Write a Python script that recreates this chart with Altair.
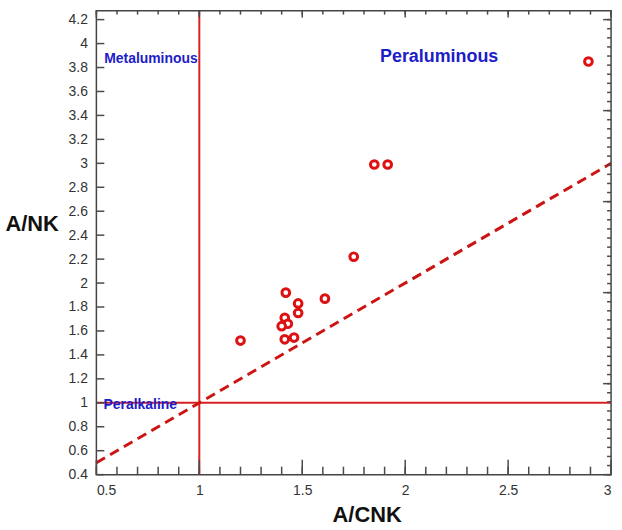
import altair as alt
import pandas as pd

# ---- data ----
acnk = [1.20, 1.42, 1.61, 1.48, 1.48, 1.415, 1.43, 1.40, 1.415, 1.46, 1.75, 1.85, 1.915, 2.89]
ank = [1.52, 1.92, 1.87, 1.83, 1.75, 1.71, 1.66, 1.64, 1.53, 1.545, 2.22, 2.99, 2.99, 3.85]

dash_x = [0.5, 3.0]          # A/NK = A/CNK boundary
dash_y = [0.5, 3.0]
vline_x = [1.0, 1.0]         # A/CNK = 1
vline_y = [0.4, 4.275]
hline_x = [0.5, 3.0]         # A/NK = 1
hline_y = [1.0, 1.0]

labels = ["Peraluminous", "Metaluminous", "Peralkaline"]
label_x = [2.165, 0.538, 0.535]
label_y = [3.89, 3.868, 0.979]

x_major = [0.5, 1, 1.5, 2, 2.5, 3]
x_minor = [round(0.5 + 0.1 * i, 1) for i in range(26)]
y_ticks = [round(0.4 + 0.2 * i, 1) for i in range(20)]
y_right_minor = [round(0.4 + 0.076 * i, 3) for i in range(51)]
y_right_major = [round(0.4 + 0.76 * i, 2) for i in range(6)]

X_LO, X_HI = 0.5, 3.0
Y_LO, Y_HI = 0.4, 4.275

# ---- tables ----
pts = pd.DataFrame({"x": acnk, "y": ank})
dash = pd.DataFrame({"x": dash_x, "y": dash_y})
vline = pd.DataFrame({"x": vline_x, "y": vline_y})
hline = pd.DataFrame({"x": hline_x, "y": hline_y})
lab = pd.DataFrame({"t": labels, "x": label_x, "y": label_y})
frame = pd.DataFrame({"x": [X_LO], "x2": [X_HI], "y": [Y_LO], "y2": [Y_HI]})

FONT = "Liberation Sans"
XS = alt.Scale(domain=[X_LO, X_HI], nice=False, zero=False)
YS = alt.Scale(domain=[Y_LO, Y_HI], nice=False, zero=False)
TICK = "#4a4a4a"
BLUE = "#1c1cc8"

x_main = alt.Axis(orient="bottom", values=x_major, format="~g", ticks=False,
                  domain=False, grid=False, labelPadding=9, labelFontSize=14,
                  labelColor="#333333", labelFont=FONT, title="A/CNK",
                  titleFont=FONT, titleFontSize=22, titleFontWeight="bold",
                  titleColor="#111111", titleX=272, titleY=40,
                  titleAlign="center", titleBaseline="middle")
y_main = alt.Axis(orient="left", values=y_ticks, format="~g", ticks=False,
                  domain=False, grid=False, labelPadding=9, labelFontSize=14,
                  labelColor="#333333", labelFont=FONT, title="A/NK",
                  titleFont=FONT, titleFontSize=22, titleFontWeight="bold",
                  titleColor="#111111", titleAngle=0, titleX=-92, titleY=214,
                  titleAlign="left", titleBaseline="middle")


def x_ticks(values, at, length, inward):
    """Vertical tick marks along the bottom/top frame edge, pointing inward."""
    df = pd.DataFrame({"v": values})
    return alt.Chart(df).mark_tick(
        orient="vertical", color=TICK, thickness=1.5, size=length, opacity=1
    ).encode(
        x=alt.X("v:Q", scale=XS, axis=None),
        y=alt.YDatum(at, type="quantitative", scale=YS, axis=None),
        yOffset=alt.value(inward * length / 2),
    )


def y_ticks_mark(values, at, length, inward):
    """Horizontal tick marks along the left/right frame edge, pointing inward."""
    df = pd.DataFrame({"v": values})
    return alt.Chart(df).mark_tick(
        orient="horizontal", color=TICK, thickness=1.5, size=length, opacity=1
    ).encode(
        y=alt.Y("v:Q", scale=YS, axis=None),
        x=alt.XDatum(at, type="quantitative", scale=XS, axis=None),
        xOffset=alt.value(inward * length / 2),
    )


box = alt.Chart(frame).mark_rect(
    fill=None, fillOpacity=0, stroke="#444444", strokeWidth=1.5
).encode(x=alt.X("x:Q", scale=XS, axis=None), x2="x2:Q",
         y=alt.Y("y:Q", scale=YS, axis=None), y2="y2:Q")

points = alt.Chart(pts).mark_point(
    shape="circle", filled=False, fill="#ffffff", fillOpacity=1,
    stroke="#dd1111", strokeWidth=3, size=60, opacity=1
).encode(x=alt.X("x:Q", scale=XS, axis=x_main),
         y=alt.Y("y:Q", scale=YS, axis=y_main))

dashed = alt.Chart(dash).mark_line(
    color="#cc1414", strokeWidth=3, strokeDash=[10, 6]
).encode(x=alt.X("x:Q", scale=XS, axis=None),
         y=alt.Y("y:Q", scale=YS, axis=None))

vrule = alt.Chart(vline).mark_line(color="#d82020", strokeWidth=2).encode(
    x=alt.X("x:Q", scale=XS, axis=None),
    y=alt.Y("y:Q", scale=YS, axis=None))

hrule = alt.Chart(hline).mark_line(color="#d82020", strokeWidth=2).encode(
    x=alt.X("x:Q", scale=XS, axis=None),
    y=alt.Y("y:Q", scale=YS, axis=None))

big = alt.Chart(lab[lab.t == "Peraluminous"]).mark_text(
    align="center", baseline="middle", font=FONT, fontWeight="bold",
    fontSize=18, color=BLUE
).encode(x=alt.X("x:Q", scale=XS, axis=None),
         y=alt.Y("y:Q", scale=YS, axis=None), text="t:N")

small = alt.Chart(lab[lab.t != "Peraluminous"]).mark_text(
    align="left", baseline="middle", font=FONT, fontWeight="bold",
    fontSize=14, color=BLUE
).encode(x=alt.X("x:Q", scale=XS, axis=None),
         y=alt.Y("y:Q", scale=YS, axis=None), text="t:N")

ticks = [
    x_ticks(x_minor, Y_LO, 8, -1),
    x_ticks(x_major, Y_LO, 15, -1),
    x_ticks(x_minor, Y_HI, 4, 1),
    x_ticks(x_major, Y_HI, 7, 1),
    y_ticks_mark(y_ticks, X_LO, 8, 1),
    y_ticks_mark(y_right_minor, X_HI, 4, -1),
    y_ticks_mark(y_right_major, X_HI, 8, -1),
]

chart = alt.layer(points, vrule, hrule, dashed, big, small, box, *ticks).resolve_axis(
    x="independent", y="independent"
).properties(
    width=518, height=467,
).configure_view(strokeWidth=0)

chart.save("out.html", embed_options={"renderer": "svg", "actions": False})
